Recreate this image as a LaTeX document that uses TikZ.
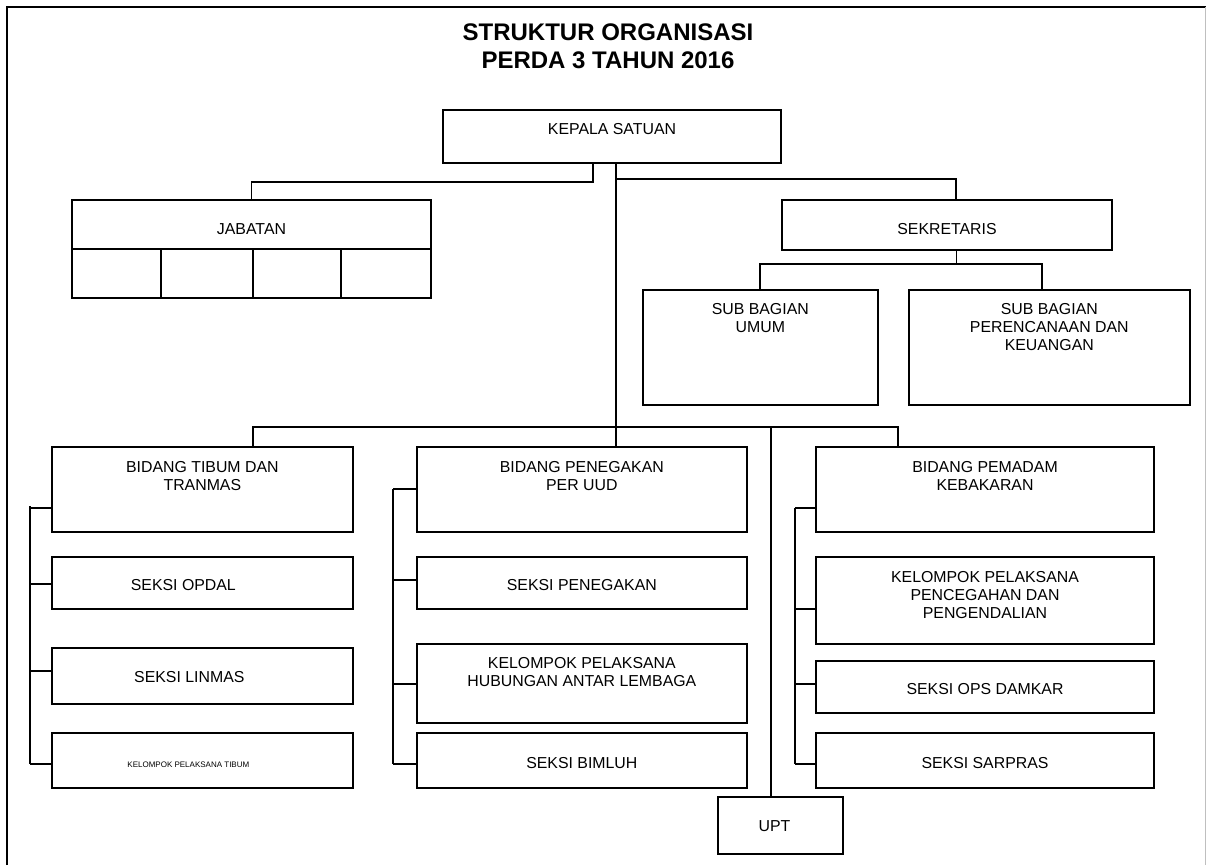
\documentclass[tikz,border=0pt]{standalone}
\usepackage{fontspec}
\setmainfont{Liberation Sans}
\usetikzlibrary{fit}
\tikzset{
  box/.style={draw, line width=1.4pt, inner sep=0pt, fit={#1}},
  txt/.style={anchor=north, inner sep=0pt, align=center, yshift=-#1*0.75pt},
  link/.style={line width=1.3pt},
}
\begin{document}
\begin{tikzpicture}[x=0.75pt,y=-0.75pt,font=\fontsize{11.9pt}{13.5pt}\selectfont]
\useasboundingbox (0,0) rectangle (1207,865);
\draw[line width=1.6pt] (7,865) -- (7,7) -- (1206,7);
\draw[black!25,line width=1pt] (1205.5,7) -- (1205.5,865);
\node[anchor=north, inner sep=0pt, align=center, font=\bfseries\fontsize{18pt}{21pt}\selectfont] (title) at (608,23) {STRUKTUR ORGANISASI\\PERDA 3 TAHUN 2016};

\node[box={(443,110) (781,162.7)}, label={[txt=14]north:KEPALA SATUAN}] (kepala) {};
\node[box={(72,200) (431,298)}, label={[txt=24]north:JABATAN}] (jabatan) {};
\node[box={(782,200) (1112,250)}, label={[txt=24]north:SEKRETARIS}] (sekretaris) {};
\node[box={(642.6,290) (878,405)}, label={[txt=14]north:SUB BAGIAN\\UMUM}] (umum) {};
\node[box={(908.6,290) (1190,405)}, label={[txt=14]north:SUB BAGIAN\\PERENCANAAN DAN\\KEUANGAN}] (rencana) {};

\node[box={(51.7,446.7) (353,532)}, label={[txt=15]north:BIDANG TIBUM DAN\\TRANMAS}] (tibum) {};
\node[box={(51.7,556.7) (353,609)}, label={[txt=23.3, xshift=-14.25pt]north:SEKSI OPDAL}] (opdal) {};
\node[box={(51.7,648.3) (353,704.3)}, label={[txt=23.4, xshift=-9.75pt]north:SEKSI LINMAS}] (linmas) {};
\node[box={(51.7,733.3) (353,787.7)}, label={[txt=29.4, xshift=-10.5pt, font=\fontsize{6pt}{7pt}\selectfont]north:KELOMPOK PELAKSANA TIBUM}] (kptibum) {};

\node[box={(417,446.7) (746.7,532.3)}, label={[txt=15]north:BIDANG PENEGAKAN\\PER UUD}] (penegakan) {};
\node[box={(417,556.7) (746.7,609)}, label={[txt=23.3]north:SEKSI PENEGAKAN}] (skpenegakan) {};
\node[box={(417,644.3) (746.7,723.3)}, label={[txt=14]north:KELOMPOK PELAKSANA\\HUBUNGAN ANTAR LEMBAGA}] (hubungan) {};
\node[box={(417,733.3) (746.7,787.7)}, label={[txt=24.4]north:SEKSI BIMLUH}] (bimluh) {};

\node[box={(816,447.3) (1154,532.3)}, label={[txt=15]north:BIDANG PEMADAM\\KEBAKARAN}] (pemadam) {};
\node[box={(816,557.3) (1154,644.3)}, label={[txt=14.4]north:KELOMPOK PELAKSANA\\PENCEGAHAN DAN\\PENGENDALIAN}] (pencegahan) {};
\node[box={(816,661) (1154,712.7)}, label={[txt=23]north:SEKSI OPS DAMKAR}] (damkar) {};
\node[box={(816,733.3) (1154,787.7)}, label={[txt=24.4]north:SEKSI SARPRAS}] (sarpras) {};

\node[box={(718.3,797.3) (842.7,854)}, label={[txt=24.4, xshift=-4.5pt]north:UPT}] (upt) {};

% cells of jabatan
\draw[line width=1.4pt] (jabatan.west |- 0,249) -- (jabatan.east |- 0,249);
\foreach \x in {161,253,341}
  \draw[line width=1.4pt] (\x,249) -- (\x,0 |- jabatan.south);

\coordinate (kj) at (592.7,181.7);
\coordinate (trunk) at (616,179.3);
\coordinate (sk) at (956,179.3);
\coordinate (sb) at (956.6,264);
\coordinate (sbR) at (1041.7,264);
\coordinate (barL) at (253.3,426.7);
\coordinate (barR) at (898.3,426.7);
\coordinate (uptx) at (770.7,426.7);

\draw[link] (kepala.south -| kj) -- (kj) -| (jabatan.north);
\draw[link] (kepala.south -| trunk) -- (trunk |- penegakan.north);
\draw[link] (trunk) -- (sk) -- (sk |- sekretaris.north);
\draw[link] (sekretaris.south -| sb) -- (sb) -| (umum.north);
\draw[link] (sb) -- (sbR) -- (sbR |- rencana.north);
\draw[link] (barL |- tibum.north) -- (barL) -- (barR) -- (barR |- pemadam.north);
\draw[link] (uptx) -- (uptx |- upt.north);

\draw[link] (30,506) -- (30,764.3);
\foreach \b/\y in {tibum/507.7, opdal/583.7, linmas/671, kptibum/764.3}
  \draw[link] (30,\y) -- (\b.west |- 30,\y);
\draw[link] (393.3,489) -- (393.3,764.3);
\foreach \b/\y in {penegakan/489, skpenegakan/580, hubungan/683.7, bimluh/764.3}
  \draw[link] (393.3,\y) -- (\b.west |- 393.3,\y);
\draw[link] (795,507.7) -- (795,764.3);
\foreach \b/\y in {pemadam/507.7, pencegahan/609, damkar/683.7, sarpras/764.3}
  \draw[link] (795,\y) -- (\b.west |- 795,\y);
\end{tikzpicture}
\end{document}
